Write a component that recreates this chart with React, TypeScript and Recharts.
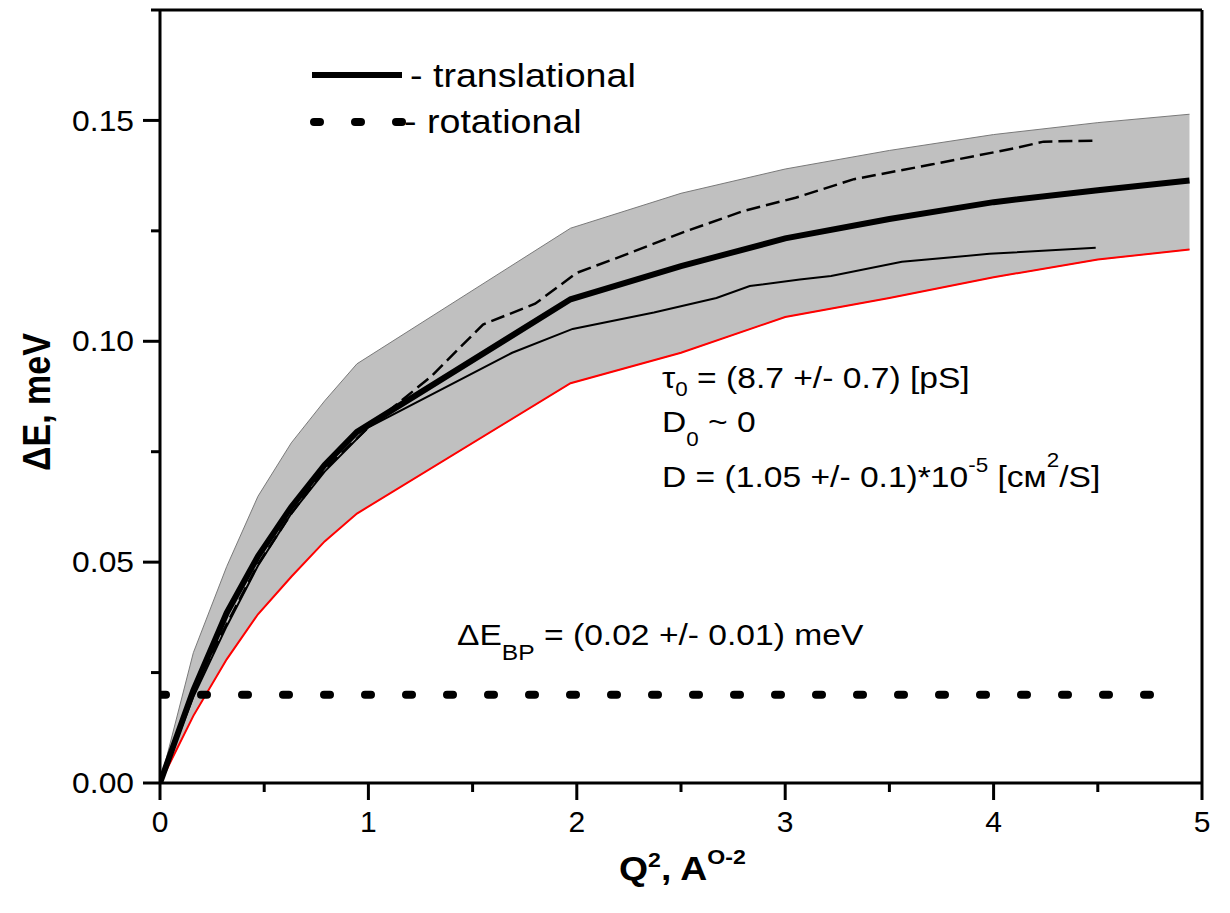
import React from 'react';
import { ComposedChart, Area, Line, XAxis, YAxis, ReferenceLine } from 'recharts';

// Q^2 grid of the model band and its lower / upper edges (meV)
const bandQ2 = [0, 0.16, 0.32, 0.47, 0.63, 0.79, 0.945, 1.97, 2.5, 3.0, 3.5, 4.0, 4.5, 4.94];
const bandUpper = [0, 0.0295, 0.049, 0.0649, 0.077, 0.0865, 0.0949, 0.1256, 0.1335, 0.139, 0.1432, 0.1468, 0.1495, 0.1514];
const bandLower = [0, 0.0152, 0.028, 0.0382, 0.0467, 0.0547, 0.061, 0.0905, 0.0974, 0.1055, 0.1098, 0.1145, 0.1185, 0.1208];

// translational fit (thick line)
const transQ2 = [0, 0.16, 0.32, 0.47, 0.63, 0.79, 0.945, 1.97, 2.5, 3.0, 3.5, 4.0, 4.5, 4.94];
const transDE = [0, 0.021, 0.0385, 0.0513, 0.0625, 0.072, 0.0795, 0.1095, 0.117, 0.1233, 0.1277, 0.1315, 0.1342, 0.1364];

// measured widths, first set (thin solid)
const set1Q2 = [0, 0.16, 0.32, 0.47, 0.63, 0.79, 1.0, 1.69, 1.98, 2.37, 2.67, 2.83, 3.07, 3.22, 3.56, 3.8, 3.98, 4.49];
const set1DE = [0, 0.0195, 0.0355, 0.0492, 0.061, 0.0705, 0.0805, 0.0974, 0.1028, 0.1065, 0.1098, 0.1125, 0.114, 0.1148, 0.118, 0.119, 0.1198, 0.1212];

// measured widths, second set (thin dashed)
const set2Q2 = [0, 0.16, 0.32, 0.47, 0.63, 0.79, 1.0, 1.3, 1.55, 1.8, 2.0, 2.2, 2.5, 2.8, 3.05, 3.33, 3.7, 4.1, 4.24, 4.48];
const set2DE = [0, 0.021, 0.036, 0.0495, 0.061, 0.071, 0.0805, 0.092, 0.1038, 0.1085, 0.1155, 0.119, 0.1245, 0.1295, 0.1325, 0.1367, 0.14, 0.1437, 0.1452, 0.1454];

// rotational contribution (constant)
const rotQ2 = [0, 4.8];
const rotDE = [0.02, 0.02];

const xTicks = [0, 0.5, 1, 1.5, 2, 2.5, 3, 3.5, 4, 4.5, 5];
const yTicks = [0, 0.025, 0.05, 0.075, 0.1, 0.125, 0.15, 0.175];

const FONT = 'Liberation Sans, Arial, Helvetica, sans-serif';

const bandData = bandQ2.map((q, i) => ({ q, range: [bandLower[i], bandUpper[i]] }));
const pts = (xs: number[], ys: number[]) => xs.map((q, i) => ({ q, v: ys[i] }));
const lowerData = pts(bandQ2, bandLower);
const transData = pts(transQ2, transDE);
const set1Data = pts(set1Q2, set1DE);
const set2Data = pts(set2Q2, set2DE);
const rotData = pts(rotQ2, rotDE);

const isMultiple = (v: number, step: number) => Math.abs(v / step - Math.round(v / step)) < 1e-6;

const YTick = (props: any) => {
  const { x, y, payload } = props;
  const v = payload.value as number;
  const major = isMultiple(v, 0.05);
  return (
    <g>
      <line x1={x} x2={x - (major ? 17 : 9)} y1={y} y2={y} stroke="#000" strokeWidth={3} />
      {major && (
        <g transform={`translate(${x - 26},${y}) scale(1.06,1)`}>
          <text x={0} y={0} textAnchor="end" dominantBaseline="central" fontSize={30} fontFamily={FONT} fill="#000">
            {v.toFixed(2)}
          </text>
        </g>
      )}
    </g>
  );
};

const XTick = (props: any) => {
  const { x, y, payload } = props;
  const v = payload.value as number;
  const major = isMultiple(v, 1);
  return (
    <g>
      <line x1={x} x2={x} y1={y} y2={y + (major ? 17 : 9)} stroke="#000" strokeWidth={3} />
      {major && (
        <text x={x} y={y + 38} textAnchor="middle" dominantBaseline="central" fontSize={30} fontFamily={FONT} fill="#000">
          {String(v)}
        </text>
      )}
    </g>
  );
};

const Stretch = ({ x, y, k = 1.12, children }: { x: number; y: number; k?: number; children: React.ReactNode }) => (
  <g transform={`translate(${x},${y}) scale(${k},1)`}>{children}</g>
);

export default function App() {
  return (
    <div style={{ position: 'absolute', left: 0, top: 0, width: 1230, height: 913, background: '#fff' }}>
      <ComposedChart
        width={1230}
        height={913}
        data={bandData}
        margin={{ top: 10, right: 28, bottom: 80, left: 90 }}
      >
        <XAxis
          type="number"
          dataKey="q"
          domain={[0, 5]}
          ticks={xTicks}
          interval={0}
          tick={<XTick />}
          tickLine={false}
          tickSize={0}
          tickMargin={0}
          axisLine={{ stroke: '#000', strokeWidth: 3 }}
          height={50}
          allowDataOverflow
        />
        <YAxis
          type="number"
          domain={[0, 0.175]}
          ticks={yTicks}
          interval={0}
          tick={<YTick />}
          tickLine={false}
          tickSize={0}
          tickMargin={0}
          axisLine={{ stroke: '#000', strokeWidth: 3 }}
          width={70}
          allowDataOverflow
        />
        <Area
          dataKey="range"
          type="linear"
          fill="#c0c0c0"
          fillOpacity={1}
          stroke="#7a7a7a"
          strokeWidth={1}
          dot={false}
          activeDot={false}
          isAnimationActive={false}
        />
        <Line data={lowerData} dataKey="v" type="linear" stroke="#ff0000" strokeWidth={2} dot={false} activeDot={false} isAnimationActive={false} />
        <Line data={set1Data} dataKey="v" type="linear" stroke="#000" strokeWidth={2} dot={false} activeDot={false} isAnimationActive={false} />
        <Line data={set2Data} dataKey="v" type="linear" stroke="#000" strokeWidth={2.5} strokeDasharray="14 6" dot={false} activeDot={false} isAnimationActive={false} />
        <Line data={transData} dataKey="v" type="linear" stroke="#000" strokeWidth={6} dot={false} activeDot={false} isAnimationActive={false} />
        <Line data={rotData} dataKey="v" type="linear" stroke="#000" strokeWidth={8} strokeDasharray="6 35" strokeLinecap="round" dot={false} activeDot={false} isAnimationActive={false} />
        <ReferenceLine y={0.175} stroke="#000" strokeWidth={3} />
        <ReferenceLine x={5} stroke="#000" strokeWidth={3} />
      </ComposedChart>

      <svg width={1230} height={913} style={{ position: 'absolute', left: 0, top: 0, pointerEvents: 'none' }} fontFamily={FONT}>
        {/* axis titles */}
        <text transform="translate(37,402) rotate(-90) scale(1,1.12)" textAnchor="middle" dominantBaseline="central" fontSize={34} fontWeight="bold" fill="#000">
          ΔE, meV
        </text>
        <Stretch x={619} y={880} k={1.1}>
          <text x={0} y={0} fontSize={34} fontWeight="bold" fill="#000">
            <tspan>Q</tspan>
            <tspan fontSize={21} dy={-13}>2</tspan>
            <tspan dy={13}>, A</tspan>
            <tspan fontSize={21} dy={-16}>O-2</tspan>
          </text>
        </Stretch>

        {/* legend */}
        <line x1={312} x2={402} y1={75} y2={75} stroke="#000" strokeWidth={6} />
        <Stretch x={410} y={87} k={1.14}>
          <text x={0} y={0} fontSize={33} fill="#000">- translational</text>
        </Stretch>
        <line x1={314} x2={402} y1={122} y2={122} stroke="#000" strokeWidth={8} strokeDasharray="6 35" strokeLinecap="round" />
        <Stretch x={404} y={133} k={1.14}>
          <text x={0} y={0} fontSize={33} fill="#000">- rotational</text>
        </Stretch>

        {/* fit parameters */}
        <Stretch x={662} y={388}>
          <text x={0} y={0} fontSize={30} fill="#000">
            <tspan>τ</tspan>
            <tspan fontSize={20} dy={8}>0</tspan>
            <tspan dy={-8}> = (8.7 +/- 0.7) [pS]</tspan>
          </text>
        </Stretch>
        <Stretch x={662} y={432}>
          <text x={0} y={0} fontSize={30} fill="#000">
            <tspan>D</tspan>
            <tspan fontSize={20} dy={14}>0</tspan>
            <tspan dy={-14}> ~ 0</tspan>
          </text>
        </Stretch>
        <Stretch x={662} y={487}>
          <text x={0} y={0} fontSize={30} fill="#000">
            <tspan>D = (1.05 +/- 0.1)*10</tspan>
            <tspan fontSize={20} dy={-15}>-5</tspan>
            <tspan dy={15}> [cм</tspan>
            <tspan fontSize={20} dy={-20}>2</tspan>
            <tspan dy={20}>/S]</tspan>
          </text>
        </Stretch>
        <Stretch x={457} y={645}>
          <text x={0} y={0} fontSize={30} fill="#000">
            <tspan>ΔE</tspan>
            <tspan fontSize={22} dy={15}>BP</tspan>
            <tspan dy={-15}> = (0.02 +/- 0.01) meV</tspan>
          </text>
        </Stretch>
      </svg>
    </div>
  );
}
